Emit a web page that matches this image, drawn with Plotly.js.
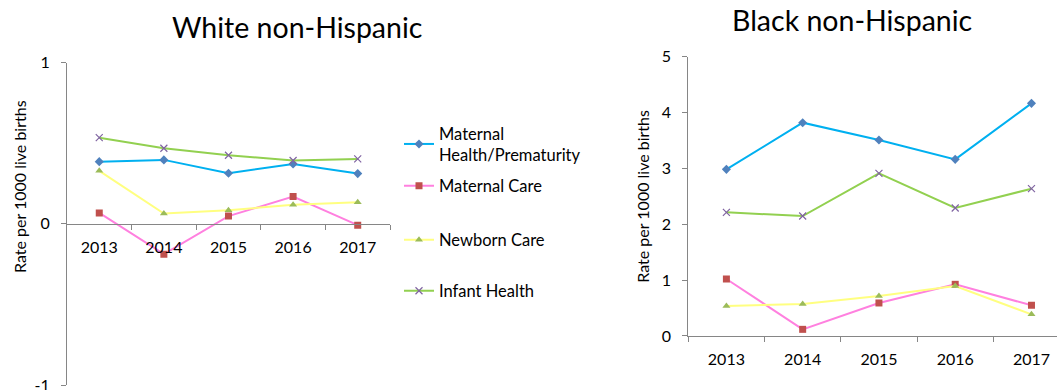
<!DOCTYPE html>
<html>
<head>
<meta charset="utf-8">
<script src="https://cdn.plot.ly/plotly-3.0.1.min.js"></script>
<style>html,body{margin:0;padding:0;background:#fff;}#chart{width:1061px;height:390px;}</style>
</head>
<body>
<div id="chart"></div>
<script>
var years = ["2013", "2014", "2015", "2016", "2017"];
var seriesNames = ["Maternal<br>Health/Prematurity", "Maternal Care", "Newborn Care", "Infant Health"];

// White non-Hispanic
var whiteMaternalHealth = [0.386, 0.397, 0.314, 0.372, 0.312];
var whiteMaternalCare   = [0.068, -0.188, 0.048, 0.169, -0.008];
var whiteNewbornCare    = [0.329, 0.064, 0.085, 0.118, 0.134];
var whiteInfantHealth   = [0.535, 0.469, 0.426, 0.393, 0.403];

// Black non-Hispanic
var blackMaternalHealth = [2.983, 3.819, 3.508, 3.162, 4.165];
var blackMaternalCare   = [1.020, 0.119, 0.591, 0.925, 0.549];
var blackNewbornCare    = [0.537, 0.573, 0.716, 0.895, 0.388];
var blackInfantHealth   = [2.214, 2.148, 2.912, 2.291, 2.637];

var styles = [
  {line: '#00B0F0', marker: '#4F81BD', symbol: 'diamond', size: 7},
  {line: '#FF80DF', marker: '#C0504D', symbol: 'square', size: 7},
  {line: '#FFFF80', marker: '#9BBB59', symbol: 'triangle-up', size: 7},
  {line: '#92D050', marker: '#8064A2', symbol: 'x-thin-open', size: 7}
];
var legendIds = ['legend', 'legend2', 'legend3', 'legend4'];
var legendCenters = [144, 186, 240, 291];

var whiteData = [whiteMaternalHealth, whiteMaternalCare, whiteNewbornCare, whiteInfantHealth];
var blackData = [blackMaternalHealth, blackMaternalCare, blackNewbornCare, blackInfantHealth];

var traces = [];
function mk(vals, i, xa, ya, show) {
  var s = styles[i];
  return {
    x: years, y: vals, type: 'scatter', mode: 'lines+markers',
    name: seriesNames[i], legend: legendIds[i], showlegend: show,
    xaxis: xa, yaxis: ya,
    line: {color: s.line, width: 2},
    marker: {color: s.marker, symbol: s.symbol, size: s.size,
             line: {color: s.marker, width: s.symbol === 'x-thin-open' ? 1.2 : 0}}
  };
}
for (var i = 0; i < 4; i++) traces.push(mk(whiteData[i], i, 'x', 'y', true));
for (var i = 0; i < 4; i++) traces.push(mk(blackData[i], i, 'x2', 'y2', false));

var fontFam = 'Lato, "Open Sans", sans-serif';
var axisColor = '#868686';

var layout = {
  width: 1061, height: 390,
  margin: {l: 0, r: 0, t: 0, b: 0},
  paper_bgcolor: '#fff', plot_bgcolor: 'rgba(0,0,0,0)',
  font: {family: fontFam, color: '#000', size: 14},
  showlegend: true,
  xaxis: {
    domain: [0.0631, 0.3676], anchor: 'free', position: 0.4256,
    type: 'category', range: [-0.5, 4.5],
    showline: true, linecolor: axisColor, linewidth: 1,
    ticks: 'outside', tickson: 'boundaries', ticklen: 5, tickcolor: axisColor,
    ticklabelstandoff: 9,
    showgrid: false, zeroline: false, tickfont: {size: 16}
  },
  yaxis: {
    domain: [0.0128, 0.8392], anchor: 'x', range: [-1, 1],
    tickvals: [-1, 0, 1], ticktext: ['-1', '0', '1'],
    showline: true, linecolor: axisColor, linewidth: 1,
    ticks: 'outside', ticklen: 5, tickcolor: axisColor,
    ticklabelstandoff: 8, ticklabeloverflow: 'allow',
    showgrid: false, zeroline: false, tickfont: {size: 16}
  },
  xaxis2: {
    domain: [0.6487, 0.9959], anchor: 'y2',
    type: 'category', range: [-0.5, 4.33],
    showline: true, linecolor: axisColor, linewidth: 1,
    ticks: 'outside', tickson: 'boundaries', ticklen: 5, tickcolor: axisColor,
    ticklabelstandoff: 9,
    showgrid: false, zeroline: false, tickfont: {size: 16}
  },
  yaxis2: {
    domain: [0.1385, 0.8546], anchor: 'x2', range: [0, 5],
    tickvals: [0, 1, 2, 3, 4, 5],
    showline: true, linecolor: axisColor, linewidth: 1,
    ticks: 'outside', ticklen: 5, tickcolor: axisColor,
    ticklabelstandoff: 8,
    showgrid: false, zeroline: false, tickfont: {size: 16},
    title: {text: 'Rate per 1000 live births', font: {size: 16}, standoff: 8}
  },
  annotations: [
    {text: 'White non-Hispanic', xref: 'paper', yref: 'paper', x: 297/1061, y: 1 - 27/390,
     xanchor: 'center', yanchor: 'middle', showarrow: false, font: {size: 28.5, family: fontFam}},
    {text: 'Black non-Hispanic', xref: 'paper', yref: 'paper', x: 852/1061, y: 1 - 20/390,
     xanchor: 'center', yanchor: 'middle', showarrow: false, font: {size: 28.5, family: fontFam}},
    {text: 'Rate per 1000 live births', xref: 'paper', yref: 'paper', x: 19/1061, y: 1 - 187/390,
     xanchor: 'center', yanchor: 'middle', textangle: -90, showarrow: false, font: {size: 16, family: fontFam}}
  ]
};
for (var k = 0; k < 4; k++) {
  layout[legendIds[k]] = {
    x: 399/1061, y: 1 - legendCenters[k]/390, xanchor: 'left', yanchor: 'middle',
    font: {family: fontFam, size: 16.5, color: '#000'},
    itemwidth: 30, bgcolor: 'rgba(0,0,0,0)', borderwidth: 0
  };
}

Plotly.newPlot('chart', traces, layout, {displayModeBar: false, staticPlot: true});
</script>
</body>
</html>
